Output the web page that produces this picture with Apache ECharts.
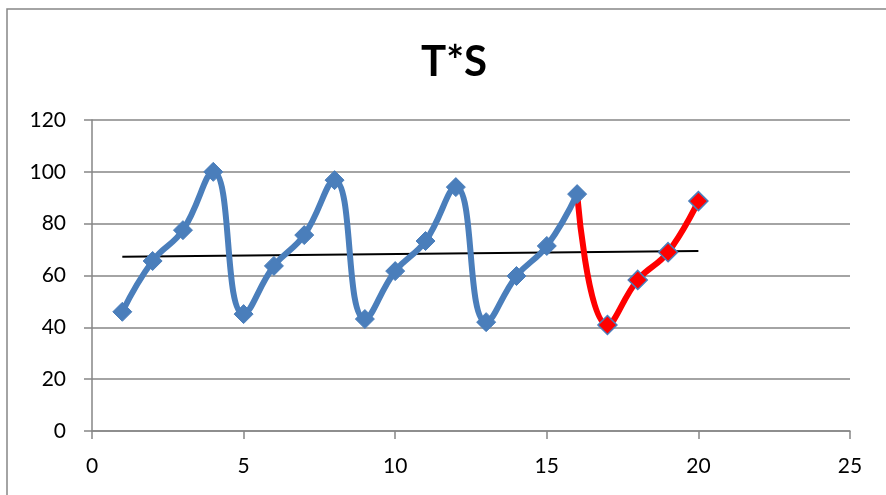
<!DOCTYPE html>
<html><head><meta charset="utf-8">
<script src="https://cdn.jsdelivr.net/npm/echarts@6/dist/echarts.min.js"></script>
<style>html,body{margin:0;padding:0;background:#fff}#c{width:886px;height:495px}</style>
</head><body><div id="c"></div>
<script>
var titleText = 'T*S';
var blueX = [1,2,3,4,5,6,7,8,9,10,11,12,13,14,15,16];
var blueY = [46,65.6,77.5,100,45.1,63.7,75.6,96.8,43.2,61.7,73.3,94.1,42,59.8,71.4,91.4];
var redX = [16,17,18,19,20];
var redY = [91.4,40.9,58.3,69,88.7];
var trendX = [1,20];
var trendY = [67.2,69.5];
var xTicks = [0,5,10,15,20,25];
var yTicks = [0,20,40,60,80,100,120];

var blueData = blueX.map(function(x,i){return [x,blueY[i]];});
var redData = redX.map(function(x,i){
  var d = {value:[x,redY[i]]};
  if(i===0){ d.symbol='none'; }
  return d;
});
var trendData = trendX.map(function(x,i){return [x,trendY[i]];});

var chart = echarts.init(document.getElementById('c'));
var font = 'Lato, "Open Sans", sans-serif';
chart.setOption({
  animation:false,
  backgroundColor:'#fff',
  title:{text:titleText,left:449,top:36,textAlign:'center',
    textStyle:{fontSize:42,fontWeight:'bold',color:'#000',fontFamily:font}},
  grid:{left:92,right:36,top:120,bottom:64},
  graphic:[{type:'polyline',shape:{points:[[7,495],[7,9],[886,9]]},
    style:{stroke:'#868686',lineWidth:1.5,fill:null}}],
  xAxis:{type:'value',min:xTicks[0],max:xTicks[xTicks.length-1],interval:5,
    axisLine:{show:true,onZero:false,lineStyle:{color:'#868686',width:1.5}},
    axisTick:{show:true,length:8,lineStyle:{color:'#868686',width:1.5}},
    splitLine:{show:false},
    axisLabel:{fontSize:21,color:'#000',fontFamily:font,margin:25}},
  yAxis:{type:'value',min:yTicks[0],max:yTicks[yTicks.length-1],interval:20,
    axisLine:{show:true,lineStyle:{color:'#868686',width:1.5}},
    axisTick:{show:true,length:8,lineStyle:{color:'#868686',width:1.5}},
    splitLine:{show:true,lineStyle:{color:'#868686',width:1.5}},
    axisLabel:{fontSize:21,color:'#000',fontFamily:font,margin:26}},
  series:[
    {type:'line',data:trendData,symbol:'none',z:1,
      lineStyle:{color:'#000',width:2}},
    {type:'line',data:redData,smooth:0.45,symbol:'diamond',symbolSize:19,z:2,
      lineStyle:{color:'#ff0000',width:6},
      itemStyle:{color:'#ff0000',borderColor:'#4a7ebb',borderWidth:1.5}},
    {type:'line',data:blueData,smooth:0.45,symbol:'diamond',symbolSize:19,z:3,
      lineStyle:{color:'#4a7ebb',width:6},
      itemStyle:{color:'#4a7ebb',borderColor:'#4a7ebb',borderWidth:1}}
  ]
});
</script></body></html>
